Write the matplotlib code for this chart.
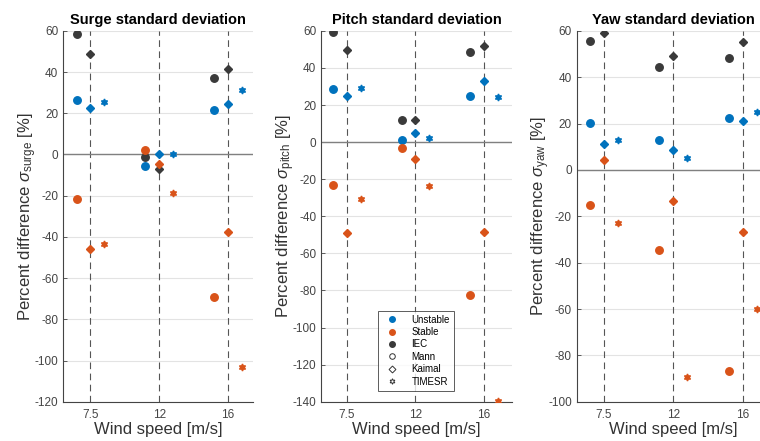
import matplotlib
matplotlib.use("Agg")
import matplotlib.pyplot as plt
from matplotlib.lines import Line2D
import numpy as np

plt.rcParams['font.family'] = ['Liberation Sans', 'DejaVu Sans']
plt.rcParams['mathtext.fontset'] = 'custom'
plt.rcParams['mathtext.rm'] = 'Liberation Sans'
plt.rcParams['mathtext.it'] = 'Liberation Sans:italic'
plt.rcParams['axes.unicode_minus'] = False

# ---------------- data ----------------
wind_labels = ['7.5', '12', '16']

surge_iec_mann = [58.4, -1.0, 37.2]
surge_iec_kaimal = [48.6, -7.2, 41.4]
surge_unst_mann = [26.4, -5.5, 21.7]
surge_unst_kaimal = [22.8, 0.0, 24.3]
surge_unst_timesr = [25.4, 0.0, 31.5]
surge_stab_mann = [-21.7, 2.3, -69.3]
surge_stab_kaimal = [-46.0, -4.6, -37.8]
surge_stab_timesr = [-43.4, -18.8, -103.0]

pitch_iec_mann = [59.6, 12.2, 48.5]
pitch_iec_kaimal = [49.6, 11.7, 52.1]
pitch_unst_mann = [28.4, 1.1, 25.0]
pitch_unst_kaimal = [24.8, 4.7, 32.9]
pitch_unst_timesr = [29.0, 2.2, 24.4]
pitch_stab_mann = [-23.2, -3.2, -82.3]
pitch_stab_kaimal = [-49.2, -9.0, -48.3]
pitch_stab_timesr = [-30.9, -23.4, -139.8]

yaw_iec_mann = [55.8, 44.6, 48.1]
yaw_iec_kaimal = [59.1, 49.1, 55.4]
yaw_unst_mann = [20.3, 12.9, 22.3]
yaw_unst_kaimal = [11.3, 8.6, 21.2]
yaw_unst_timesr = [12.9, 5.2, 25.1]
yaw_stab_mann = [-15.1, -34.5, -86.7]
yaw_stab_kaimal = [4.2, -13.6, -26.9]
yaw_stab_timesr = [-23.0, -89.4, -60.0]

titles = ['Surge standard deviation', 'Pitch standard deviation', 'Yaw standard deviation']
ylabels = [r'Percent difference $\sigma_{\mathrm{surge}}$ [%]',
           r'Percent difference $\sigma_{\mathrm{pitch}}$ [%]',
           r'Percent difference $\sigma_{\mathrm{yaw}}$ [%]']

# ---------------- style ----------------
C_UNST = '#0072BD'
C_STAB = '#D95319'
C_IEC = '#3a3a3a'
HEX = (6, 1, 0)

fig = plt.figure(figsize=(7.6, 4.41), dpi=100)
bottom = 0.089
height = 0.841
axes_pos = [(0.0829, 0.250), (0.4224, 0.2513), (0.759, 0.254)]
xlims = [(0.60, 3.365), (0.62, 3.41), (0.61, 3.39)]
ylims = [(-120, 60), (-140, 60), (-100, 60)]
yticks = [np.arange(-120, 61, 20), np.arange(-140, 61, 20), np.arange(-100, 61, 20)]

data = [
    (surge_iec_mann, surge_iec_kaimal, surge_unst_mann, surge_unst_kaimal, surge_unst_timesr,
     surge_stab_mann, surge_stab_kaimal, surge_stab_timesr),
    (pitch_iec_mann, pitch_iec_kaimal, pitch_unst_mann, pitch_unst_kaimal, pitch_unst_timesr,
     pitch_stab_mann, pitch_stab_kaimal, pitch_stab_timesr),
    (yaw_iec_mann, yaw_iec_kaimal, yaw_unst_mann, yaw_unst_kaimal, yaw_unst_timesr,
     yaw_stab_mann, yaw_stab_kaimal, yaw_stab_timesr),
]

xc = np.arange(1, len(wind_labels) + 1)
off = 0.2

for i in range(3):
    left, width = axes_pos[i]
    ax = fig.add_axes([left, bottom, width, height])
    (iec_m, iec_k, un_m, un_k, un_t, st_m, st_k, st_t) = data[i]

    ax.set_xlim(*xlims[i])
    ax.set_ylim(*ylims[i])
    ax.set_yticks(yticks[i])
    ax.set_xticks(xc)
    ax.set_xticklabels(wind_labels)
    ax.grid(axis='y', color='#e3e3e3', linewidth=0.8, zorder=0)
    ax.set_axisbelow(True)
    for x in xc:
        ax.axvline(x, color='#555555', linestyle=(0, (6, 4)), linewidth=0.8, zorder=1)
    ax.axhline(0, color='#808080', linewidth=1.0, zorder=1)

    for vals, col in ((iec_m, C_IEC), (un_m, C_UNST), (st_m, C_STAB)):
        ax.plot(xc - off, vals, linestyle='none', marker='o', markersize=5.4,
                color=col, markeredgecolor=col, zorder=3)
    for vals, col in ((iec_k, C_IEC), (un_k, C_UNST), (st_k, C_STAB)):
        ax.plot(xc, vals, linestyle='none', marker='D', markersize=4.0,
                color=col, markeredgecolor=col, zorder=3)
    for vals, col in ((un_t, C_UNST), (st_t, C_STAB)):
        ax.plot(xc + off, vals, linestyle='none', marker=HEX, markersize=5.0,
                color=col, markeredgecolor=col, zorder=3)

    for s in ('top', 'right'):
        ax.spines[s].set_visible(False)
    for s in ('left', 'bottom'):
        ax.spines[s].set_color('#444444')
        ax.spines[s].set_linewidth(0.8)
    ax.tick_params(axis='both', direction='in', length=3, width=0.6,
                   labelsize=8.5, colors='#444444', labelcolor='#444444')
    ax.tick_params(axis='x', length=0, pad=5)
    ax.set_title(titles[i], fontsize=10.5, fontweight='bold', pad=5)
    ax.set_xlabel('Wind speed [m/s]', fontsize=12, color='#333333', labelpad=1)
    ax.set_ylabel(ylabels[i], fontsize=12, color='#333333', labelpad=-3)

    if i == 1:
        handles = [
            Line2D([], [], linestyle='none', marker='o', markersize=4, color=C_UNST),
            Line2D([], [], linestyle='none', marker='o', markersize=4, color=C_STAB),
            Line2D([], [], linestyle='none', marker='o', markersize=4, color=C_IEC),
            Line2D([], [], linestyle='none', marker='o', markersize=4, markerfacecolor='none',
                   markeredgecolor='#333333', markeredgewidth=0.7),
            Line2D([], [], linestyle='none', marker='D', markersize=3.5, markerfacecolor='none',
                   markeredgecolor='#333333', markeredgewidth=0.7),
            Line2D([], [], linestyle='none', marker=HEX, markersize=4, markerfacecolor='none',
                   markeredgecolor='#333333', markeredgewidth=0.7),
        ]
        labels = ['Unstable', 'Stable', 'IEC', 'Mann', 'Kaimal', 'TIMESR']
        leg = ax.legend(handles, labels, loc='lower left', bbox_to_anchor=(0.30, 0.03),
                        fontsize=7, frameon=True, fancybox=False, edgecolor='#333333',
                        handlelength=2.0, handletextpad=1.0, labelspacing=0.25,
                        borderpad=0.4, borderaxespad=0)
        leg.get_frame().set_linewidth(0.7)
        leg.set_zorder(5)

fig.savefig('out.png', dpi=100)
